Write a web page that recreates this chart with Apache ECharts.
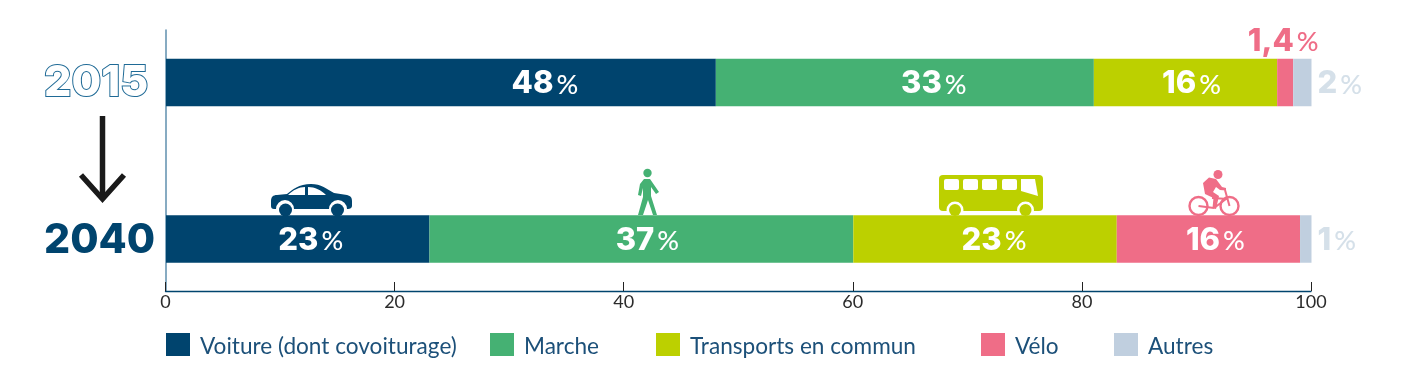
<!DOCTYPE html>
<html><head><meta charset="utf-8">
<style>html,body{margin:0;padding:0;background:#fff}#c{width:1406px;height:391px}</style>
<script src="https://cdn.jsdelivr.net/npm/echarts@6/dist/echarts.min.js"></script>
</head><body><div id="c"></div>
<script>
const years = ['2015', '2040'];
const seriesNames = ['Voiture (dont covoiturage)', 'Marche', 'Transports en commun', 'Vélo', 'Autres'];
const voiture = [48, 23];
const marche = [33, 37];
const transports = [16, 23];
const velo = [1.4, 16];
const autres = [1.6, 1];
const voitureLabels = ['48', '23'];
const marcheLabels = ['33', '37'];
const transportsLabels = ['16', '23'];
const veloLabels = ['1,4', '16'];
const autresLabels = ['2', '1'];

const colors = ['#00446e', '#45b173', '#bcd000', '#ef6d87', '#c0cfdf'];
const FONT = 'Inter';
const TEXTFONT = 'Lato';
const chart = echarts.init(document.getElementById('c'), null, {renderer: 'canvas'});

// label shifts (px) that the original applies to in-bar labels, by series then year
const labelShift = [[104, 13], [29, 6], [6, 9], [-2, 7], [0, 0]];

function labelRich(col) {
  return {
    n: {fontFamily: FONT, fontSize: 31, fontWeight: 800, color: col},
    p: {fontFamily: TEXTFONT, fontSize: 27, fontWeight: 500, color: col, padding: [2, 0, 0, 3]}
  };
}
function makeSeries(i, values, labels) {
  return {
    type: 'bar', name: seriesNames[i], stack: 'total', barWidth: 47.5,
    xAxisIndex: 0, yAxisIndex: 0, itemStyle: {color: colors[i]},
    data: values.map((v, k) => {
      let col = '#fff', pos = 'inside', dist = 5;
      if (i === 3 && k === 0) { col = colors[3]; pos = 'top'; dist = 3; }
      if (i === 4) { col = '#d5e0e9'; pos = 'right'; dist = 6; }
      return {value: v, label: {show: true, position: pos, distance: dist, offset: [labelShift[i][k], 1.5],
        formatter: '{n|' + labels[k] + '}{p|%}', rich: labelRich(col)}};
    })
  };
}
const legendLeft = [166, 490, 656, 981, 1114];
const car = 'M0 17C0 13 2 11 6 11L16 10C21 6 28 0 40 0C50 0 56 5 63 9L76 11C80 12 81 14 81 17L81 22C81 24 79 25 77 25L76 25A9 9 0 0 0 58 25L23 25A9 9 0 0 0 5 25L3 25C1 25 0 24 0 22Z' +
  'M17 11L34 11L34 3C28 3 22 6 17 11ZM37 11L55 11C50 6 44 3 37 3Z';
const walker = 'M6 10L12 10L21 23L18 25L13 18L13 27L19 46L15 46L10 31L5 46L0 46L5 28L5 19L3 27L0 26L2 15Z';

function renderIcons() {
  const fill = (c) => ({fill: c});
  const circ = (cx, cy, r, c) => ({type: 'circle', shape: {cx, cy, r}, style: {fill: c}});
  const ring = (cx, cy, r, c) => ({type: 'circle', shape: {cx, cy, r}, style: {fill: 'none', stroke: c, lineWidth: 2.4}});
  const path = (d, x, y, w, h, c) => ({type: 'path', shape: {pathData: d, layout: 'cover', x, y, width: w, height: h}, style: {fill: c}});
  const win = (x) => ({type: 'rect', shape: {x, y: 179, width: 15, height: 11, r: 2}, style: {fill: '#fff'}});
  const bar = (x1, y1, x2, y2) => ({type: 'line', shape: {x1, y1, x2, y2}, style: {stroke: colors[3], lineWidth: 2}});
  return {type: 'group', children: [
    path(car, 271, 184, 81, 25, colors[0]),
    circ(285.5, 210, 6.5, colors[0]), circ(337.5, 210, 6.5, colors[0]),
    circ(647.5, 173, 4.2, colors[1]),
    path(walker, 638, 179, 21, 36, colors[1]),
    {type: 'rect', shape: {x: 939, y: 175, width: 104, height: 36, r: 4}, style: fill(colors[2])},
    win(944), win(963), win(982), win(1002),
    {type: 'polygon', shape: {points: [[1021, 179], [1035, 179], [1038, 196], [1021, 191]]}, style: fill('#fff')},
    circ(955, 210, 8.5, '#fff'), circ(1025.5, 210, 8.5, '#fff'),
    circ(955, 210, 6, colors[2]), circ(1025.5, 210, 6, colors[2]),
    circ(1218, 174.5, 4.5, colors[3]),
    ring(1198.5, 206, 9, colors[3]), ring(1229.5, 206, 9, colors[3]),
    {type: 'polygon', shape: {points: [[1203, 183], [1209, 177.5], [1216, 179], [1222, 187], [1226, 188], [1226, 190.5], [1220, 190], [1216, 187], [1213, 192], [1219, 196], [1216, 209], [1212.5, 208], [1213.5, 198], [1205, 194]]}, style: fill(colors[3])},
    bar(1225, 190, 1229.5, 206), bar(1212, 198, 1228, 199), bar(1226, 199, 1214, 208), bar(1214, 208, 1198.5, 206)
  ]};
}

const option = {
  animation: false,
  grid: [
    {left: 166, top: 4.25, width: 1145.5, height: 313},
    {left: 165.5, top: 30, width: 1145.5, height: 261}
  ],
  xAxis: [
    {gridIndex: 0, type: 'value', min: 0, max: 100, show: false},
    {gridIndex: 1, type: 'value', min: 0, max: 100, interval: 20, splitLine: {show: false},
      axisLine: {show: true, lineStyle: {color: '#00446e', width: 1.3}},
      axisTick: {show: true, inside: true, length: 9, lineStyle: {color: '#222', width: 1}},
      axisLabel: {margin: 2, fontFamily: TEXTFONT, fontSize: 18, color: '#2b2b2b'}}
  ],
  yAxis: [
    {gridIndex: 0, type: 'category', inverse: true, data: years,
      axisLine: {show: false}, axisTick: {show: false}, splitLine: {show: false},
      axisLabel: {margin: 122, align: 'left',
        formatter: (v) => v === '2015' ? '{o|' + v + '}' : '{s|' + v + '}',
        rich: {
          o: {fontFamily: FONT, fontSize: 43, fontWeight: 800, color: '#fff', textBorderColor: '#1f6a96', textBorderWidth: 2, padding: [2, 0, 0, 0]},
          s: {fontFamily: FONT, fontSize: 41, fontWeight: 800, color: '#00446e', padding: [4, 0, 0, 0]}
        }}},
    {gridIndex: 1, type: 'value', min: 0, max: 1, splitLine: {show: false},
      axisTick: {show: false}, axisLabel: {show: false},
      axisLine: {show: true, lineStyle: {color: '#5f8fae', width: 1.5}}}
  ],
  legend: seriesNames.map((n, i) => ({
    data: [n], left: legendLeft[i], top: 333, itemWidth: 24, itemHeight: 23, selectedMode: false,
    icon: 'rect', padding: 0,
    formatter: (name) => '{t|' + name + '}',
    textStyle: {rich: {t: {fontFamily: TEXTFONT, fontSize: 22.6, color: '#1c5079', padding: [5, 0, 0, 5]}}}
  })),
  series: [
    makeSeries(0, voiture, voitureLabels),
    makeSeries(1, marche, marcheLabels),
    makeSeries(2, transports, transportsLabels),
    makeSeries(3, velo, veloLabels),
    makeSeries(4, autres, autresLabels),
    {type: 'custom', name: 'icônes', silent: true, clip: false, xAxisIndex: 0, yAxisIndex: 0, data: [[0, 0]], renderItem: renderIcons}
  ],
  graphic: [
    {type: 'polyline', shape: {points: [[102.5, 116], [102.5, 199]]}, style: {stroke: '#1a1a1a', lineWidth: 5.5, fill: null}},
    {type: 'polyline', shape: {points: [[81, 175], [102.5, 199], [124, 175]]}, style: {stroke: '#1a1a1a', lineWidth: 5.5, fill: null}}
  ]
};
chart.setOption(option);
</script></body></html>
